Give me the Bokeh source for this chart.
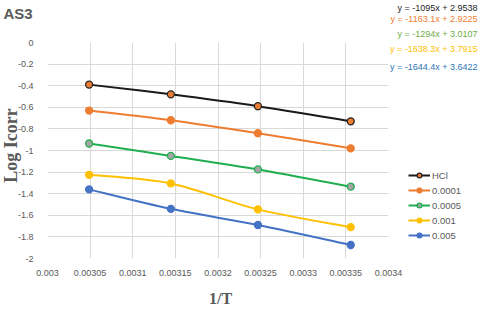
import numpy as np
from bokeh.plotting import figure
from bokeh.layouts import column
from bokeh.models import Range1d, FixedTicker, Label, Legend, LegendItem, ColumnDataSource
from bokeh.embed import file_html
from bokeh.resources import INLINE

# ---- data ----
inv_T = [0.0030488, 0.0031447, 0.0032468, 0.0033557]
series_names = ["HCl", "0.0001", "0.0005", "0.001", "0.005"]
hcl = [-0.39, -0.48, -0.59, -0.73]
c0001 = [-0.63, -0.72, -0.84, -0.98]
c0005 = [-0.935, -1.05, -1.175, -1.335]
c001 = [-1.225, -1.305, -1.545, -1.71]
c005 = [-1.36, -1.54, -1.69, -1.875]
equations = ["y = -1095x + 2.9538", "y = -1163.1x + 2.9225", "y = -1294x + 3.0107",
             "y = -1638.3x + 3.7915", "y = -1644.4x + 3.6422"]
x_ticks = [0.003, 0.00305, 0.0031, 0.00315, 0.0032, 0.00325, 0.0033, 0.00335, 0.0034]
x_tick_labels = ["0.003", "0.00305", "0.0031", "0.00315", "0.0032", "0.00325", "0.0033", "0.00335", "0.0034"]
y_ticks = [0, -0.2, -0.4, -0.6, -0.8, -1, -1.2, -1.4, -1.6, -1.8, -2]
y_tick_labels = ["0", "-0.2", "-0.4", "-0.6", "-0.8", "-1", "-1.2", "-1.4", "-1.6", "-1.8", "-2"]

line_colors = ["#1a1a1a", "#ED7D31", "#1FAF50", "#FFC000", "#4472C4"]
fill_colors = ["#ED7D31", "#ED7D31", "#A5A5A5", "#FFC000", "#4472C4"]
edge_colors = ["#262626", "#ED7D31", "#1FAF50", "#FFC000", "#4472C4"]
eq_colors = ["#262626", "#ED7D31", "#70AD47", "#FFC000", "#2E75B6"]

GRAY = "#595959"
W, H = 480, 311
L, R, T, B = 47, 92, 42, 53

# ---- main chart ----
p = figure(width=W, height=H, output_backend="svg", toolbar_location=None,
           x_range=Range1d(0.003, 0.0034), y_range=Range1d(-2, 0),
           min_border_left=L, min_border_right=R, min_border_top=T, min_border_bottom=B)
p.outline_line_color = None
p.frame_align = False

for ax in (p.xaxis[0], p.yaxis[0]):
    ax.axis_line_color = None
    ax.major_tick_line_color = None
    ax.minor_tick_line_color = None
    ax.major_label_text_color = GRAY
    ax.major_label_text_font = "Liberation Sans"
    ax.major_label_text_font_size = "9px"
p.xaxis.ticker = FixedTicker(ticks=x_ticks)
p.xaxis.major_label_overrides = dict(zip(x_ticks, x_tick_labels))
p.xaxis.major_label_standoff = 5
p.yaxis.ticker = FixedTicker(ticks=y_ticks)
p.yaxis.major_label_overrides = dict(zip(y_ticks, y_tick_labels))
p.yaxis.major_label_standoff = 8
p.xgrid.grid_line_color = "#D9D9D9"
p.ygrid.grid_line_color = "#D9D9D9"


def smooth(xs, ys):
    xs = np.asarray(xs, float)
    ys = np.asarray(ys, float)
    n = len(xs)
    px = np.concatenate([[xs[0]], xs, [xs[-1]]])
    py = np.concatenate([[ys[0]], ys, [ys[-1]]])
    d = dict(x0=[], y0=[], x1=[], y1=[], cx0=[], cy0=[], cx1=[], cy1=[])
    for i in range(n - 1):
        j = i + 1
        d["x0"].append(px[j]); d["y0"].append(py[j])
        d["x1"].append(px[j + 1]); d["y1"].append(py[j + 1])
        d["cx0"].append(px[j] + (px[j + 1] - px[j - 1]) / 6)
        d["cy0"].append(py[j] + (py[j + 1] - py[j - 1]) / 6)
        d["cx1"].append(px[j + 1] - (px[j + 2] - px[j]) / 6)
        d["cy1"].append(py[j + 1] - (py[j + 2] - py[j]) / 6)
    return ColumnDataSource(d)


for ys, lc, fc, ec in zip([hcl, c0001, c0005, c001, c005], line_colors, fill_colors, edge_colors):
    p.bezier(x0="x0", y0="y0", x1="x1", y1="y1", cx0="cx0", cy0="cy0", cx1="cx1", cy1="cy1",
             source=smooth(inv_T, ys), line_color=lc, line_width=2)
    p.scatter(x=inv_T, y=ys, size=7, fill_color=fc, line_color=ec, line_width=1.3)

# ---- overlay for texts outside the plot area (pixel coordinates, y from top) ----
q = figure(width=W, height=H, output_backend="svg", toolbar_location=None,
           x_range=Range1d(0, W), y_range=Range1d(H, 0),
           x_axis_type=None, y_axis_type=None,
           min_border=0, min_border_left=0, min_border_right=0, min_border_top=0, min_border_bottom=0)
q.outline_line_color = None
q.background_fill_alpha = 0
q.border_fill_alpha = 0
q.grid.visible = False
q.frame_align = False
q.margin = (-H, 0, 0, 0)

items = []
for name, lc, fc, ec in zip(series_names, line_colors, fill_colors, edge_colors):
    # legend swatches only: one point far outside the visible range
    lr = q.line(x=[-1000, -999], y=[-1000, -1000], line_color=lc, line_width=2)
    sr = q.scatter(x=[-1000], y=[-1000], size=7, fill_color=fc, line_color=ec, line_width=1.3)
    items.append(LegendItem(label=name, renderers=[lr, sr]))

legend = Legend(items=items, location=(408, H - 241), glyph_width=22, glyph_height=12,
                label_height=12, spacing=3, padding=0, margin=0, label_standoff=2,
                border_line_color=None, background_fill_alpha=0,
                label_text_font="Liberation Sans", label_text_font_size="9.5px",
                label_text_color=GRAY)
q.add_layout(legend, "center")

q.add_layout(Label(x=3, y=12.5, text="AS3",
                   text_font="Liberation Sans", text_font_style="bold", text_font_size="15px",
                   text_color=GRAY, text_align="left", text_baseline="middle"))

eq_y = [7.3, 18.3, 33.3, 48.3, 66.7]
for eq, c, yy in zip(equations, eq_colors, eq_y):
    q.add_layout(Label(x=477, y=yy, text=eq,
                       text_font="Liberation Sans", text_font_size="9px", text_color=c,
                       text_align="right", text_baseline="middle"))

q.add_layout(Label(x=10, y=145, text="Log Icorr",
                   text_font="Liberation Serif", text_font_style="bold", text_font_size="18px",
                   text_color=GRAY, text_align="center", text_baseline="middle", angle=np.pi / 2))
q.add_layout(Label(x=220, y=298, text="1/T",
                   text_font="Liberation Serif", text_font_style="bold", text_font_size="16px",
                   text_color=GRAY, text_align="center", text_baseline="middle"))

layout = column(p, q)
open("out.html", "w").write(file_html(layout, INLINE))
